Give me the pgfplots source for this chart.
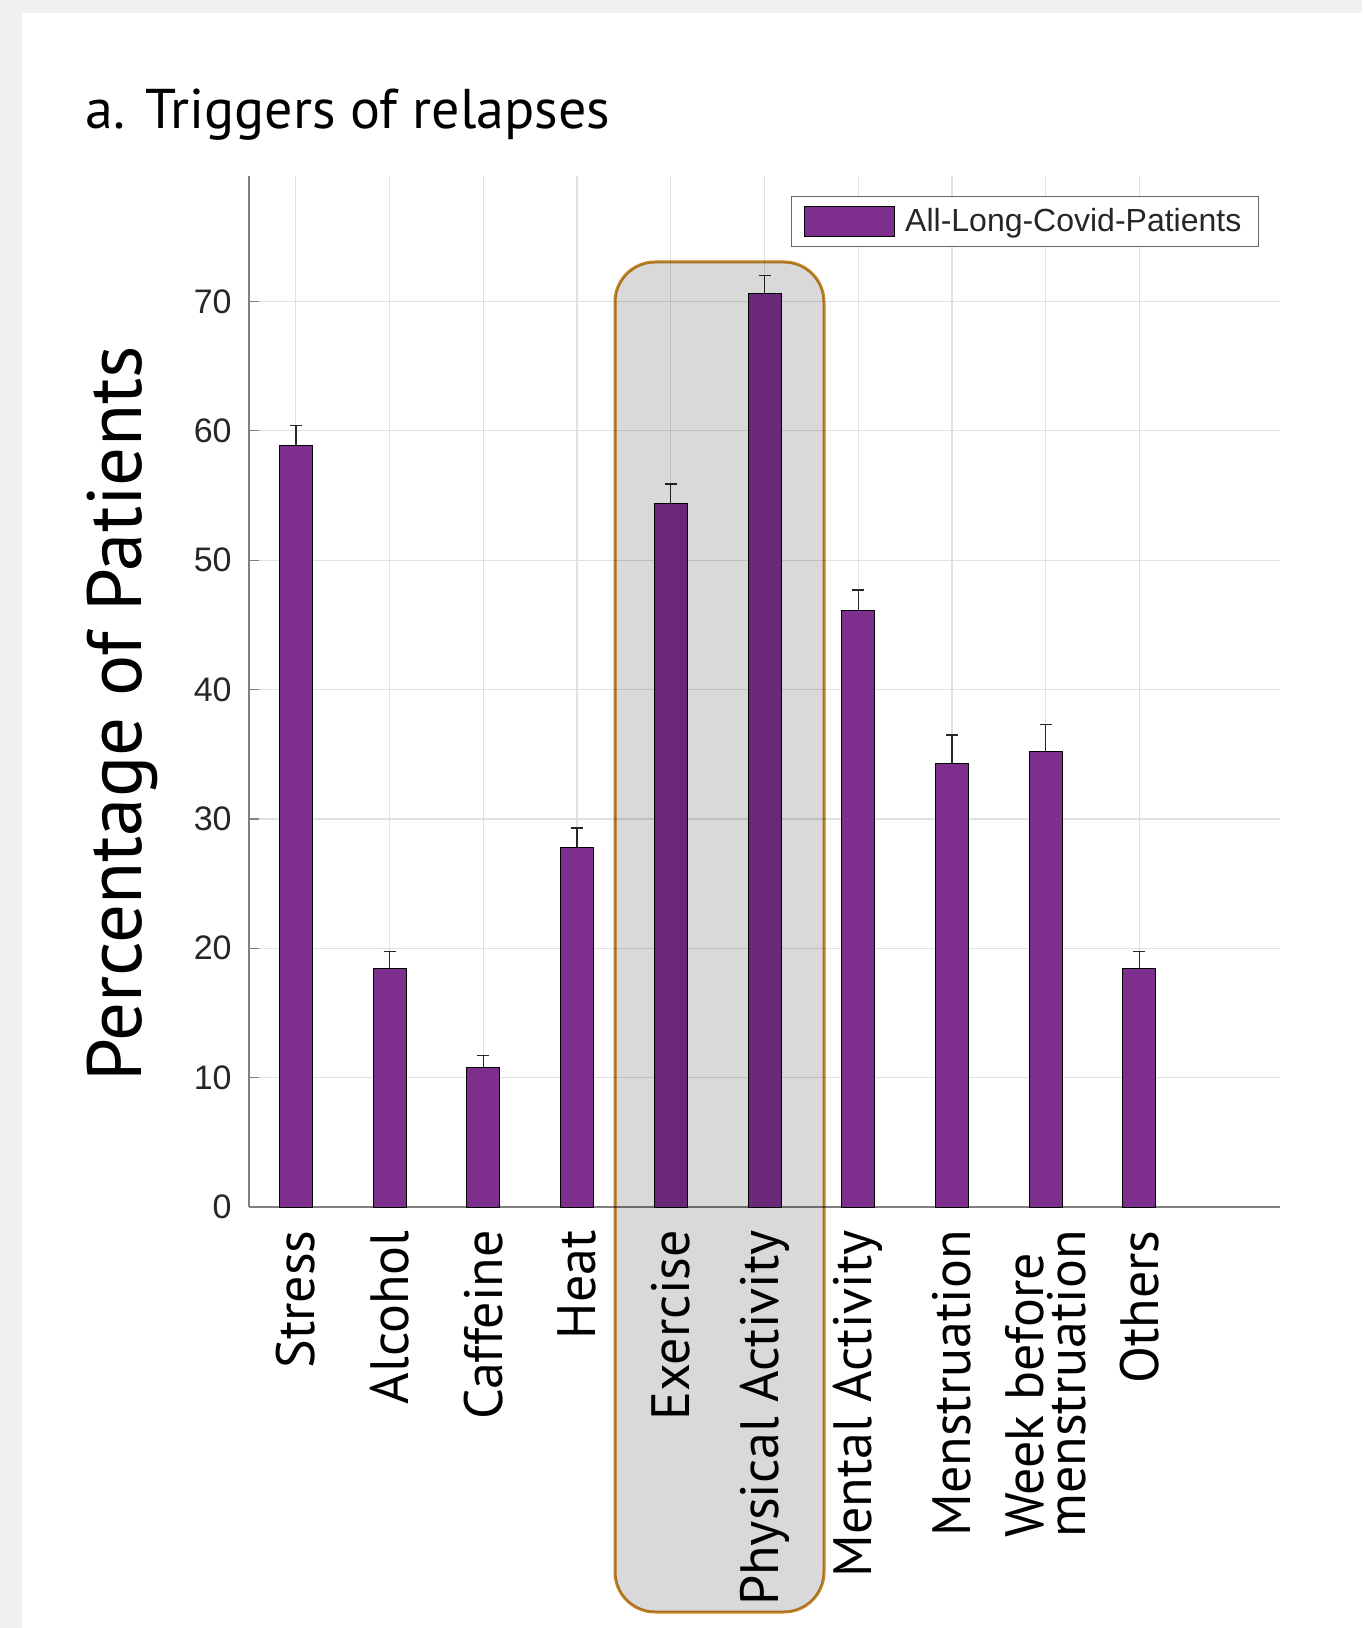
\documentclass[border=0pt]{standalone}
\usepackage{pgfplots}
\pgfplotsset{compat=1.18}
\usepackage{fontspec}
\setmainfont{PT Sans}
\newfontfamily\arialfont{Liberation Sans}
\definecolor{barpurple}{rgb}{0.494,0.184,0.556}
\definecolor{boxedge}{RGB}{196,132,40}
\definecolor{bggray}{RGB}{240,240,240}
\definecolor{tickgray}{RGB}{38,38,38}

\begin{document}
\begin{tikzpicture}
% page background and white panel
\fill[bggray] (-124.5pt,-210.5pt) rectangle (556.5pt,603.5pt);
\fill[white] (-113.5pt,-210.5pt) rectangle (556.5pt,597pt);
\useasboundingbox (-124.5pt,-210.5pt) rectangle (556.5pt,603.5pt);
\begin{axis}[
  at={(0pt,0pt)}, anchor=south west,
  scale only axis, width=515.5pt, height=515.5pt,
  xmin=0.5, xmax=11.5, ymin=0, ymax=79.7,
  axis lines*=left,
  axis line style={draw=black!50, line width=0.8pt},
  xtick={1,...,10},
  xticklabels={Stress, Alcohol, Caffeine, Heat, Exercise, Physical Activity, Mental Activity, Menstruation, {Week before\\menstruation}, Others},
  ytick={0,10,...,70},
  tick align=inside,
  major tick length=5pt,
  tick style={draw=black!50, line width=0.6pt},
  grid=major,
  major grid style={draw=black!12, line width=0.6pt},
  xticklabel style={rotate=90, anchor=east, inner sep=0pt, align=left, text=black,
    font=\fontsize{27}{21}\selectfont},
  xticklabel shift=11.5pt,
  yticklabel style={font=\fontsize{17}{17}\selectfont\arialfont, text=tickgray, inner sep=0pt},
  yticklabel shift=8.5pt,
  /pgf/number format/assume math mode=true,
  title={a. Triggers of relapses},
  title style={at={(axis description cs:-0.159,1.0349)}, anchor=base west, inner sep=0pt,
    font=\fontsize{28}{28}\selectfont},
  ylabel={Percentage of Patients},
  ylabel style={at={(axis description cs:-0.1038,0.478)}, anchor=base, inner sep=0pt,
    font=\fontsize{38.5}{38.5}\selectfont},
  legend style={at={(axis description cs:0.9796,0.9806)}, anchor=north east,
    draw=black!60, line width=0.6pt, inner xsep=6.5pt, inner ysep=4pt,
    font=\fontsize{16}{16}\selectfont\arialfont, text=tickgray, cells={anchor=west}},
  clip=false,
]
\addplot[ybar, bar width=16.5pt, fill=barpurple, draw=black, line width=0.5pt,
  legend image code/.code={\draw[fill=barpurple, draw=black, line width=0.5pt] (0pt,-7.5pt) rectangle (45pt,7.5pt); \path (48pt,0pt);},
  error bars/.cd, y dir=plus, y explicit,
  error bar style={draw=black!85, line width=0.7pt},
  error mark options={rotate=90, mark size=3pt, draw=black!85, line width=0.7pt}]
  table[x=x, y=y, y error=e] {
x y e
1 58.9 1.5
2 18.45 1.3
3 10.8 0.9
4 27.8 1.5
5 54.4 1.5
6 70.6 1.4
7 46.1 1.6
8 34.3 2.2
9 35.2 2.1
10 18.45 1.3
};
\addlegendentry{All-Long-Covid-Patients\hspace{5pt}}
\end{axis}
% highlight box round Exercise and Physical Activity
\begin{scope}[blend mode=multiply]
\filldraw[fill=black!15, draw=boxedge, line width=1.5pt, rounded corners=20pt]
  (183pt,-202.5pt) rectangle (287.5pt,472.5pt);
\end{scope}
\end{tikzpicture}
\end{document}
